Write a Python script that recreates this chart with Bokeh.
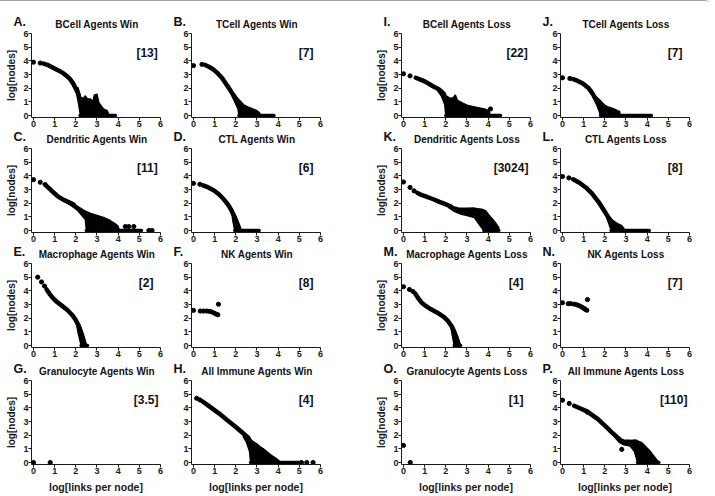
from bokeh.plotting import figure
from bokeh.layouts import row, column
from bokeh.models import Label, FixedTicker, Range1d
from bokeh.embed import file_html
from bokeh.resources import INLINE

FONT = "Liberation Sans"

# ---------------- text ----------------
letters = ["A.", "B.", "C.", "D.", "E.", "F.", "G.", "H.",
           "I.", "J.", "K.", "L.", "M.", "N.", "O.", "P."]
titles = ["BCell Agents Win", "TCell Agents Win", "Dendritic Agents Win", "CTL Agents Win",
          "Macrophage Agents Win", "NK Agents Win", "Granulocyte Agents Win", "All Immune Agents Win",
          "BCell Agents Loss", "TCell Agents Loss", "Dendritic Agents Loss", "CTL Agents Loss",
          "Macrophage Agents Loss", "NK Agents Loss", "Granulocyte Agents Loss", "All Immune Agents Loss"]
brackets = ["[13]", "[7]", "[11]", "[6]", "[2]", "[8]", "[3.5]", "[4]",
            "[22]", "[7]", "[3024]", "[8]", "[4]", "[7]", "[1]", "[110]"]
tick_values = [0, 1, 2, 3, 4, 5, 6]
y_label = "log[nodes]"
x_label = "log[links per node]"

# ---------------- data (log links, log nodes) ----------------
A_dots = [(0, 3.9), (0.32, 3.84)]
A_trace = [(0.47, 3.8), (0.7, 3.68), (0.95, 3.48), (1.2, 3.28), (1.42, 3.08), (1.6, 2.85),
           (1.74, 2.64), (1.87, 2.35), (1.97, 2.05), (2.08, 1.7), (2.15, 1.4)]
A_cloud = [(2.0, 2.0), (2.1, 2.05), (2.22, 1.35), (2.35, 1.25), (2.45, 1.44), (2.55, 1.2), (2.7, 1.2),
           (2.8, 1.0), (2.88, 1.5), (3.0, 1.56), (3.08, 0.96), (3.2, 0.7), (3.3, 0.48), (3.48, 0.36),
           (3.55, 0.1), (3.55, 0.0), (2.22, 0.0), (2.16, 0.6), (2.08, 1.3)]
A_floor = [2.2, 3.87]

B_dots = [(0, 3.65), (0.4, 3.74)]
B_trace = [(0.55, 3.7), (0.75, 3.55), (0.95, 3.36), (1.15, 3.08), (1.34, 2.76), (1.5, 2.4),
           (1.66, 2.04), (1.82, 1.65), (1.97, 1.32), (2.1, 1.05), (2.2, 0.9)]
B_cloud = [(1.8, 1.75), (2.0, 1.4), (2.2, 1.05), (2.4, 0.75), (2.6, 0.6), (2.8, 0.48), (3.0, 0.35),
           (3.12, 0.2), (3.15, 0.0), (2.15, 0.0), (2.1, 0.5), (1.95, 1.0), (1.8, 1.5)]
B_floor = [2.15, 3.8]

C_dots = [(0, 3.72), (0.32, 3.53), (0.55, 3.36), (4.34, 0.29), (4.5, 0.29), (4.74, 0.29),
          (5.45, 0.0), (5.6, 0.0)]
C_trace = [(0.62, 3.25), (0.8, 3.0), (0.95, 2.78), (1.15, 2.5), (1.42, 2.24), (1.7, 2.05), (1.9, 1.9)]
C_cloud = [(1.5, 2.3), (1.8, 2.05), (2.1, 1.75), (2.4, 1.45), (2.7, 1.25), (3.0, 1.1), (3.3, 0.95),
           (3.6, 0.75), (3.85, 0.5), (4.0, 0.3), (4.05, 0.0), (2.5, 0.0), (2.45, 0.8), (2.1, 1.45),
           (1.8, 1.8), (1.5, 2.1)]
C_floor = [2.5, 5.1]

D_dots = [(0, 3.45), (0.3, 3.38)]
D_trace = [(0.45, 3.3), (0.7, 3.15), (0.95, 2.95), (1.2, 2.65), (1.45, 2.25), (1.65, 1.85),
           (1.8, 1.45), (1.92, 1.05), (2.0, 0.65), (2.08, 0.25)]
D_cloud = [(1.8, 1.6), (1.95, 1.2), (2.1, 0.7), (2.2, 0.3), (2.25, 0.0), (1.95, 0.0), (1.85, 0.8)]
D_floor = [1.95, 3.1]

E_dots = [(0.2, 5.0), (0.38, 4.65), (0.52, 4.35)]
E_trace = [(0.62, 4.1), (0.75, 3.8), (0.9, 3.5), (1.1, 3.2), (1.35, 2.9), (1.6, 2.6), (1.85, 2.2),
           (2.0, 1.85), (2.15, 1.4), (2.25, 0.95), (2.33, 0.5), (2.4, 0.1)]
E_cloud = [(2.0, 1.9), (2.2, 1.4), (2.35, 0.8), (2.45, 0.3), (2.5, 0.0), (2.25, 0.0), (2.1, 1.0)]
E_floor = [2.25, 2.55]

F_dots = [(0, 2.57), (0.32, 2.52), (0.47, 2.52), (0.63, 2.52), (0.76, 2.5), (0.87, 2.45),
          (0.98, 2.37), (1.07, 2.3), (1.15, 2.25), (1.18, 3.02)]
F_trace = []
F_cloud = []
F_floor = []

G_dots = [(0, 0.0), (0.79, 0.0)]
G_trace = []
G_cloud = []
G_floor = []

H_dots = [(0.15, 4.7), (0.3, 4.58), (5.1, 0.0), (5.35, 0.0), (5.65, 0.0)]
H_trace = [(0.4, 4.5), (0.8, 4.05), (1.2, 3.6), (1.6, 3.1), (2.0, 2.6), (2.3, 2.2), (2.6, 1.8)]
H_cloud = [(2.4, 2.1), (2.6, 1.85), (2.8, 1.55), (3.0, 1.35), (3.15, 1.15), (3.3, 1.0), (3.5, 0.75),
           (3.7, 0.5), (3.9, 0.3), (4.05, 0.1), (4.1, 0.0), (2.7, 0.0), (2.65, 0.8), (2.5, 1.5),
           (2.35, 1.9)]
H_floor = [2.7, 5.0]

I_dots = [(0, 3.05), (0.31, 2.9), (4.11, 0.48)]
I_trace = [(0.58, 2.76), (0.8, 2.62), (0.97, 2.52), (1.17, 2.35), (1.37, 2.16), (1.55, 2.02),
           (1.68, 1.9), (1.82, 1.72), (1.92, 1.56)]
I_cloud = [(1.6, 2.0), (1.8, 1.75), (2.0, 1.45), (2.2, 1.25), (2.35, 1.3), (2.45, 1.5), (2.55, 1.1),
           (2.8, 0.9), (3.0, 0.75), (3.3, 0.65), (3.6, 0.55), (3.9, 0.45), (4.05, 0.3), (4.1, 0.0),
           (2.0, 0.0), (1.95, 0.8), (1.8, 1.4), (1.6, 1.85)]
I_floor = [2.0, 4.58]

J_dots = [(0, 2.76), (0.35, 2.71)]
J_trace = [(0.5, 2.66), (0.7, 2.55), (0.89, 2.4), (1.05, 2.24), (1.21, 2.04), (1.33, 1.8),
           (1.44, 1.56), (1.52, 1.32), (1.6, 1.08), (1.68, 0.85), (1.76, 0.6)]
J_cloud = [(1.45, 1.6), (1.6, 1.35), (1.75, 1.15), (1.9, 0.9), (2.05, 0.7), (2.2, 0.6), (2.4, 0.5),
           (2.6, 0.35), (2.7, 0.3), (2.72, 0.0), (1.8, 0.0), (1.6, 0.9), (1.45, 1.4)]
J_floor = [1.8, 4.2]

K_dots = [(0, 3.55), (0.31, 3.15), (0.5, 2.9)]
K_trace = [(0.66, 2.75), (0.85, 2.6), (1.05, 2.5), (1.25, 2.38), (1.44, 2.27), (1.7, 2.1),
           (1.92, 1.97), (2.1, 1.85), (2.25, 1.75)]
K_cloud = [(2.1, 1.9), (2.3, 1.75), (2.6, 1.65), (3.0, 1.62), (3.3, 1.65), (3.5, 1.6), (3.7, 1.55),
           (3.88, 1.45), (4.05, 1.1), (4.2, 0.85), (4.35, 0.55), (4.5, 0.2), (4.52, 0.0), (3.8, 0.0),
           (3.55, 0.5), (3.35, 0.95), (3.0, 1.1), (2.7, 1.2), (2.4, 1.4), (2.15, 1.65)]
K_floor = [3.8, 4.5]

L_dots = [(0, 3.95), (0.3, 3.85)]
L_trace = [(0.5, 3.75), (0.8, 3.5), (1.1, 3.15), (1.4, 2.7), (1.7, 2.1), (1.95, 1.5), (2.15, 1.0),
           (2.3, 0.55), (2.4, 0.2)]
L_cloud = [(2.0, 1.4), (2.2, 1.05), (2.4, 0.7), (2.6, 0.5), (2.8, 0.35), (2.9, 0.15), (2.92, 0.0),
           (2.3, 0.0), (2.1, 0.9)]
L_floor = [2.3, 4.1]

M_dots = [(0, 4.3), (0.28, 4.1), (0.45, 3.95)]
M_trace = [(0.55, 3.8), (0.7, 3.45), (0.85, 3.15), (1.05, 2.9), (1.3, 2.65), (1.6, 2.4), (1.9, 2.1),
           (2.1, 1.8), (2.3, 1.35), (2.42, 0.9), (2.52, 0.45), (2.6, 0.1)]
M_cloud = [(2.2, 1.7), (2.4, 1.2), (2.55, 0.7), (2.65, 0.2), (2.68, 0.0), (2.4, 0.0), (2.3, 0.8)]
M_floor = [2.4, 2.7]

N_dots = [(0, 3.13), (0.27, 3.06), (0.39, 3.06), (0.55, 3.03), (0.68, 2.98), (0.79, 2.91),
          (0.9, 2.82), (1.0, 2.73), (1.07, 2.65), (1.15, 2.58), (1.18, 3.36)]
N_trace = []
N_cloud = []
N_floor = []

O_dots = [(0, 1.25), (0.32, 0.0)]
O_trace = []
O_cloud = []
O_floor = []

P_dots = [(0, 4.56), (0.32, 4.32), (1.18, 3.68), (2.8, 0.96)]
P_trace = [(0.55, 4.15), (0.85, 3.95), (1.18, 3.72), (1.42, 3.45), (1.66, 3.19), (1.9, 2.85),
           (2.13, 2.52), (2.33, 2.2), (2.53, 1.92), (2.7, 1.7)]
P_cloud = [(2.45, 2.0), (2.65, 1.75), (2.9, 1.65), (3.2, 1.62), (3.45, 1.65), (3.6, 1.55),
           (3.75, 1.45), (3.9, 1.2), (4.1, 0.9), (4.3, 0.5), (4.45, 0.2), (4.55, 0.0), (3.55, 0.0),
           (3.4, 0.8), (3.2, 1.2), (2.9, 1.3), (2.7, 1.45), (2.5, 1.8)]
P_floor = [3.55, 4.55]

panel_data = {
    "A": (A_dots, A_trace, A_cloud, A_floor), "B": (B_dots, B_trace, B_cloud, B_floor),
    "C": (C_dots, C_trace, C_cloud, C_floor), "D": (D_dots, D_trace, D_cloud, D_floor),
    "E": (E_dots, E_trace, E_cloud, E_floor), "F": (F_dots, F_trace, F_cloud, F_floor),
    "G": (G_dots, G_trace, G_cloud, G_floor), "H": (H_dots, H_trace, H_cloud, H_floor),
    "I": (I_dots, I_trace, I_cloud, I_floor), "J": (J_dots, J_trace, J_cloud, J_floor),
    "K": (K_dots, K_trace, K_cloud, K_floor), "L": (L_dots, L_trace, L_cloud, L_floor),
    "M": (M_dots, M_trace, M_cloud, M_floor), "N": (N_dots, N_trace, N_cloud, N_floor),
    "O": (O_dots, O_trace, O_cloud, O_floor), "P": (P_dots, P_trace, P_cloud, P_floor),
}

# ---------------- layout ----------------
TOTAL_W = 715
COL_W = [172, 190, 178, 175]
COL_L = [31, 19, 39, 20]
COL_R = [12, 42, 10, 26]
HEAD_H = [29, 14, 14, 16]
ROW_H = [101, 101, 101, 120]
ROW_T = [3, 3, 3, 3]
ROW_B = [14, 14, 14, 33]
X_PAD = 0.094
Y_PAD = 0.145
PX_PER_X = 129 / (6.0 + X_PAD)
bracket_right = {"A": 5.87, "B": 5.67, "C": 5.87, "D": 5.67, "E": 5.67, "F": 5.67, "G": 5.9,
                 "H": 5.67, "I": 5.87, "J": 5.67, "K": 5.9, "L": 5.67, "M": 5.67, "N": 5.67,
                 "O": 5.67, "P": 5.9}


def grid_pos(i):
    half, k = divmod(i, 8)
    r, c = divmod(k, 2)
    return r, c + 2 * half


def axis_x0(c):
    # pixel position of x = 0 for a column
    return sum(COL_W[:c]) + COL_L[c] + X_PAD * PX_PER_X


def style_axis(ax):
    ax.ticker = FixedTicker(ticks=tick_values)
    ax.axis_line_color = "#1a1a1a"
    ax.axis_line_width = 1
    ax.major_tick_line_color = "#1a1a1a"
    ax.major_tick_in = 0
    ax.major_tick_out = 3
    ax.minor_tick_line_color = None
    ax.major_label_standoff = 0
    ax.major_label_text_font = FONT
    ax.major_label_text_font_style = "bold"
    ax.major_label_text_font_size = "9px"
    ax.major_label_text_color = "#1a1a1a"
    ax.axis_label_text_font = FONT
    ax.axis_label_text_font_style = "bold"
    ax.axis_label_text_color = "#1a1a1a"


def make_panel(i):
    key = letters[i][0]
    r, c = grid_pos(i)
    p = figure(width=COL_W[c], height=ROW_H[r], output_backend="svg", toolbar_location=None,
               x_range=Range1d(-X_PAD, 6.0), y_range=Range1d(-Y_PAD, 6.0),
               min_border_left=COL_L[c], min_border_right=COL_R[c],
               min_border_top=ROW_T[r], min_border_bottom=ROW_B[r])
    p.title.visible = False
    p.outline_line_color = None
    p.background_fill_color = "white"
    p.border_fill_color = "white"
    p.xgrid.visible = False
    p.ygrid.visible = False
    style_axis(p.xaxis[0])
    style_axis(p.yaxis[0])
    if c in (0, 2):
        p.yaxis[0].axis_label = y_label
        p.yaxis[0].axis_label_text_font_size = "10px"
        p.yaxis[0].axis_label_standoff = 3
    if r == 3:
        p.xaxis[0].axis_label = x_label
        p.xaxis[0].axis_label_text_font_size = "10.5px"
        p.xaxis[0].axis_label_standoff = 4

    dots, trace, cloud, floor = panel_data[key]
    if cloud:
        p.patch([q[0] for q in cloud], [q[1] for q in cloud], color="black", line_width=1.5)
    if trace:
        p.line([q[0] for q in trace], [q[1] for q in trace], color="black", line_width=4.5,
               line_cap="round", line_join="round")
    if floor:
        p.line(floor, [0, 0], color="black", line_width=3.5, line_cap="round")
    if dots:
        p.scatter([q[0] for q in dots], [q[1] for q in dots], size=4.2, color="black")

    p.add_layout(Label(x=bracket_right[key], y=4.55, text=brackets[i], text_font=FONT,
                       text_font_style="bold", text_font_size="12px", text_align="right",
                       text_baseline="middle", text_color="#111111"))
    return p


def make_header(r):
    h = HEAD_H[r]
    hd = figure(width=TOTAL_W, height=h, output_backend="svg", toolbar_location=None,
                x_range=Range1d(0, TOTAL_W), y_range=Range1d(0, h),
                x_axis_type=None, y_axis_type=None, min_border=0,
                min_border_left=0, min_border_right=0, min_border_top=0, min_border_bottom=0)
    hd.title.visible = False
    hd.outline_line_color = None
    hd.xgrid.visible = False
    hd.ygrid.visible = False
    hd.background_fill_color = "white"
    hd.border_fill_color = "white"
    for i in range(16):
        rr, c = grid_pos(i)
        if rr != r:
            continue
        x0 = axis_x0(c)
        hd.add_layout(Label(x=x0 - 20, y=1.5, text=letters[i], text_font=FONT,
                            text_font_style="bold", text_font_size="12.5px", text_align="left",
                            text_baseline="bottom", text_color="#111111"))
        hd.add_layout(Label(x=x0 + 3 * PX_PER_X, y=1.0, text=titles[i], text_font=FONT,
                            text_font_style="bold", text_font_size="10px", text_align="center",
                            text_baseline="bottom", text_color="#111111"))
    return hd


figs = {}
for i in range(16):
    figs[grid_pos(i)] = make_panel(i)

items = []
for r in range(4):
    items.append(make_header(r))
    items.append(row(*[figs[(r, c)] for c in range(4)]))

layout = column(*items, styles={"border-top": "1px solid #a3a3a3",
                                "border-right": "1px solid #a3a3a3",
                                "border-top-right-radius": "12px"})

open("out.html", "w").write(file_html(layout, INLINE))
